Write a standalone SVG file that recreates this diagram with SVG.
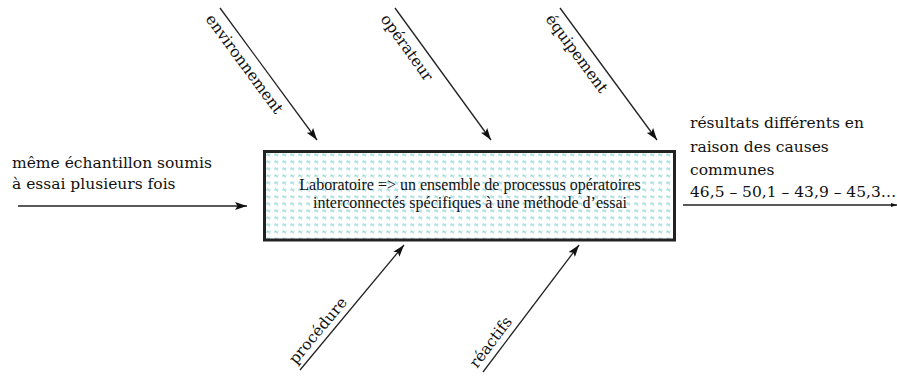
<svg xmlns="http://www.w3.org/2000/svg" width="897" height="378" viewBox="0 0 897 378">
<style>
.lbl{font-family:"DejaVu Serif","Liberation Serif",serif;font-size:15.5px;fill:#111}
.box-t{font-family:"Liberation Serif","Times New Roman",serif;font-size:16px;fill:#111}
.ln{stroke:#222;stroke-width:1.3;fill:none}
</style>
<defs>
<marker id="ah" viewBox="0 0 12 8" refX="12" refY="4" markerWidth="12" markerHeight="8" orient="auto" markerUnits="userSpaceOnUse">
<path d="M0,0 L12,4 L0,8 L2.5,4 z" fill="#111"/>
</marker>
<marker id="ahs" viewBox="0 0 6 4" refX="6" refY="2" markerWidth="6" markerHeight="4" orient="auto" markerUnits="userSpaceOnUse">
<path d="M0,0 L6,2 L0,4 z" fill="#111"/>
</marker>
<pattern id="dots" x="265" y="152" width="8" height="7" patternUnits="userSpaceOnUse">
<rect width="8" height="7" fill="#fff"/>
<path d="M2,1.5 L5,4.5 M2,1.5 L2,4 M3.5,2.5 L5.5,2" stroke="#a9dfe3" stroke-width="1.1"/>
</pattern>
</defs>

<g id="connectors">
<line class="ln" x1="18" y1="206" x2="247" y2="206" marker-end="url(#ah)"/>
<line class="ln" x1="683" y1="205" x2="897" y2="205" marker-end="url(#ahs)"/>
<line class="ln" x1="220" y1="8" x2="317" y2="140" marker-end="url(#ah)"/>
<line class="ln" x1="395" y1="8" x2="491" y2="140" marker-end="url(#ah)"/>
<line class="ln" x1="560" y1="8" x2="657" y2="140" marker-end="url(#ah)"/>
<line class="ln" x1="300" y1="370" x2="404" y2="245" marker-end="url(#ah)"/>
<line class="ln" x1="483" y1="372" x2="579" y2="245" marker-end="url(#ah)"/>
</g>

<g id="process">
<rect x="264.5" y="151.5" width="410" height="88.5" fill="url(#dots)" stroke="#222" stroke-width="3"/>
<text class="box-t" x="470" y="190" text-anchor="middle">Laboratoire =&gt; un ensemble de processus opératoires</text>
<text class="box-t" x="470" y="208" text-anchor="middle">interconnectés spécifiques à une méthode d’essai</text>
</g>

<g id="input">
<text class="lbl" x="12" y="168">même échantillon soumis</text>
<text class="lbl" x="12" y="189">à essai plusieurs fois</text>
</g>

<g id="output">
<text class="lbl" x="690" y="128">résultats différents en</text>
<text class="lbl" x="690" y="152">raison des causes</text>
<text class="lbl" x="690" y="175">communes</text>
<text class="lbl" x="690" y="197">46,5 – 50,1 – 43,9 – 45,3…</text>
</g>

<g id="environnement"><text class="lbl" transform="translate(205,19) rotate(53.7)">environnement</text></g>
<g id="operateur"><text class="lbl" transform="translate(380,19) rotate(54.3)">opérateur</text></g>
<g id="equipement"><text class="lbl" transform="translate(545,19) rotate(53.7)">équipement</text></g>
<g id="procedure"><text class="lbl" transform="translate(296,365) rotate(-50.2)">procédure</text></g>
<g id="reactifs"><text class="lbl" transform="translate(477,369) rotate(-52.9)">réactifs</text></g>
</svg>
